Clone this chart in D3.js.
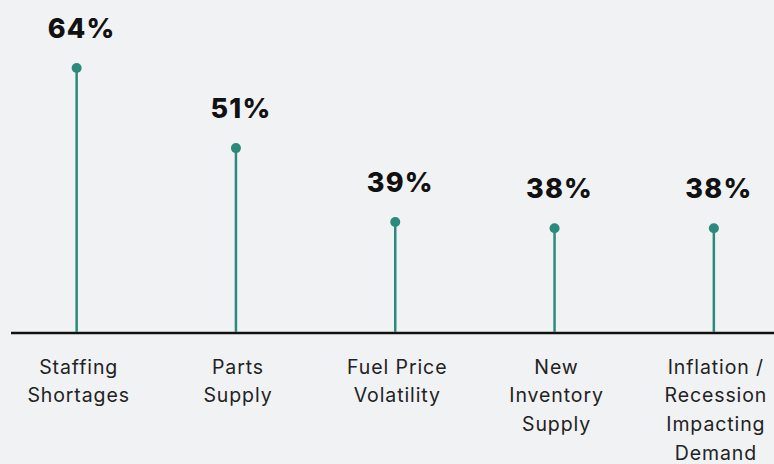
<!DOCTYPE html>
<html>
<head>
<meta charset="utf-8">
<script src="https://cdn.jsdelivr.net/npm/d3@7"></script>
<style>
  body { margin: 0; background: #f1f2f4; }
  svg { display: block; }
  .val-label { font-family: Inter, "Open Sans", sans-serif; font-weight: 800; font-size: 27px; letter-spacing: 1.2px; fill: #111; }
  .cat-label { font-family: Inter, "Open Sans", sans-serif; font-size: 19.5px; letter-spacing: 0.9px; fill: #222; }
</style>
</head>
<body>
<svg id="chart"></svg>
<script>
// data
const categories = [
  ["Staffing", "Shortages"],
  ["Parts", "Supply"],
  ["Fuel Price", "Volatility"],
  ["New", "Inventory", "Supply"],
  ["Inflation /", "Recession", "Impacting", "Demand"]
];
const values = [64, 51, 39, 38, 38];

const width = 774, height = 464;
const baseY = 333;
const teal = "#2b8a7c";

let svg = d3.select("#chart")
  .attr("width", width)
  .attr("height", height);

let x = d3.scaleBand()
  .domain(d3.range(values.length))
  .range([-3, 793.5]);

let y = d3.scaleLinear()
  .domain([21, 64])
  .range([baseY, 68]);

// baseline
svg.append("line")
  .attr("x1", 11).attr("x2", width)
  .attr("y1", baseY).attr("y2", baseY)
  .attr("stroke", "#111")
  .attr("stroke-width", 2.5);

let g = svg.append("g")
  .selectAll("g")
  .data(values)
  .join("g")
  .attr("transform", (d, i) => `translate(${x(i) + x.bandwidth() / 2},0)`);

g.append("line")
  .attr("y1", baseY - 1)
  .attr("y2", d => y(d))
  .attr("stroke", teal)
  .attr("stroke-width", 2.5);

g.append("circle")
  .attr("cy", d => y(d))
  .attr("r", 5)
  .attr("fill", teal);

g.append("text")
  .attr("class", "val-label")
  .attr("x", 5)
  .attr("y", d => y(d) - 30)
  .attr("text-anchor", "middle")
  .text(d => d + "%");

g.append("text")
  .attr("class", "cat-label")
  .attr("text-anchor", "middle")
  .selectAll("tspan")
  .data((d, i) => categories[i])
  .join("tspan")
  .attr("x", 2)
  .attr("y", (d, j) => 373.5 + j * 28.8)
  .text(d => d);
</script>
</body>
</html>
